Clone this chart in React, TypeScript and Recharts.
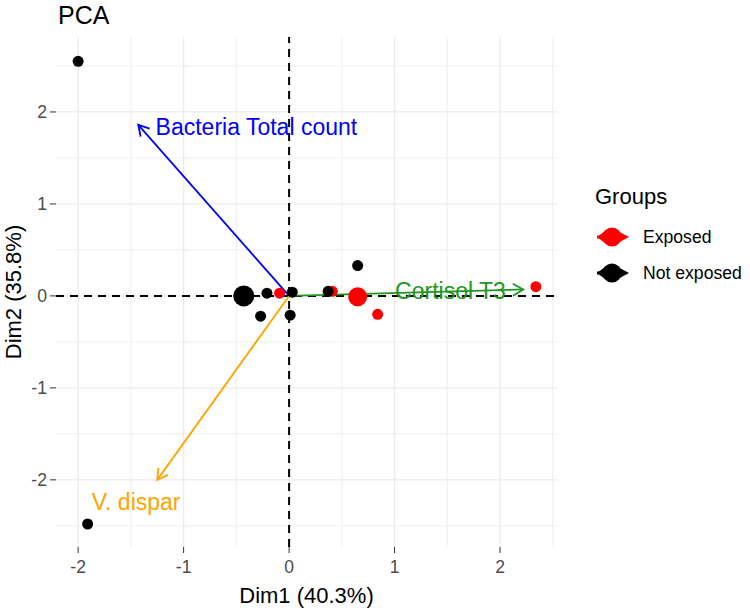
import React from "react";
import {
  ScatterChart,
  Scatter,
  XAxis,
  YAxis,
  CartesianGrid,
  ReferenceLine,
  Legend,
  Label,
} from "recharts";

// individuals
const exposedX = [-0.09, 0.41, 0.84, 2.34];
const exposedY = [0.03, 0.05, -0.2, 0.1];
const notExposedX = [-2.0, -1.91, -0.21, -0.27, 0.01, 0.03, 0.37, 0.65];
const notExposedY = [2.55, -2.48, 0.03, -0.22, -0.21, 0.04, 0.05, 0.33];

// group means
const groupNames = ["Exposed", "Not exposed"];
const meanX = [0.65, -0.43];
const meanY = [-0.01, 0.0];

// variables (arrows)
const varNames = ["Bacteria Total count", "Cortisol T3", "V. dispar"];
const varX = [-1.43, 2.22, -1.25];
const varY = [1.86, 0.07, -2.0];
const labelX = [-0.31, 1.53, -1.45];
const labelY = [1.84, 0.05, -2.24];

const xTicks = [-2, -1, 0, 1, 2];
const yTicks = [-2, -1, 0, 1, 2];
const xMinor = [-1.5, -0.5, 0.5, 1.5, 2.5];
const yMinor = [-2.5, -1.5, -0.5, 0.5, 1.5, 2.5];

const groupColors = ["#FF0000", "#000000"];
const varColors = ["#0000FF", "#1F961F", "#FFA500"];
const FONT = "'Liberation Sans', Arial, sans-serif";

const exposed = exposedX.map((x, i) => ({ x, y: exposedY[i] }));
const notExposed = notExposedX.map((x, i) => ({ x, y: notExposedY[i] }));
const labels = varNames.map((name, i) => ({ x: labelX[i], y: labelY[i], name, i }));

const dot = (r: number, fill: string) => (p: any) =>
  <circle cx={p.cx} cy={p.cy} r={r} fill={fill} />;

const arrow = (color: string) => (p: any) => {
  const { x1, y1, x2, y2 } = p;
  const a = Math.atan2(y2 - y1, x2 - x1);
  const len = 12;
  const s = Math.PI / 6;
  const ax = x2 - len * Math.cos(a - s);
  const ay = y2 - len * Math.sin(a - s);
  const bx = x2 - len * Math.cos(a + s);
  const by = y2 - len * Math.sin(a + s);
  return (
    <g>
      <line x1={x1} y1={y1} x2={x2} y2={y2} stroke={color} strokeWidth={1.8} />
      <polyline points={`${ax},${ay} ${x2},${y2} ${bx},${by}`} fill="none" stroke={color} strokeWidth={1.8} />
    </g>
  );
};

const KeyGlyph = ({ color }: { color: string }) => (
  <svg width={34} height={22} style={{ display: "block" }}>
    <polygon points="1,11 9,5 9,17" fill={color} />
    <line x1={1} y1={11} x2={17} y2={11} stroke={color} strokeWidth={3} />
    <circle cx={16} cy={11} r={9.5} fill={color} />
    <polygon points="18,3 33,11 18,19" fill={color} />
  </svg>
);

const renderLegend = () => (
  <div style={{ fontFamily: FONT, color: "#000" }}>
    <div style={{ height: 34, lineHeight: "34px", fontSize: 22, paddingLeft: 5, marginBottom: 5 }}>Groups</div>
    {groupNames.map((g, i) => (
      <div key={g} style={{ height: 36, display: "flex", alignItems: "center" }}>
        <div style={{ marginLeft: 6, width: 34 }}>
          <KeyGlyph color={groupColors[i]} />
        </div>
        <span style={{ marginLeft: 13, fontSize: 17.6, whiteSpace: "nowrap" }}>{g}</span>
      </div>
    ))}
  </div>
);

export default function App() {
  const tick = { fill: "#4D4D4D", fontSize: 17.6, fontFamily: FONT };
  return (
    <div style={{ position: "absolute", left: 0, top: 0, background: "#fff" }}>
      <ScatterChart width={750} height={608} margin={{ top: 37, right: 33, bottom: 0, left: 0 }}>
        <CartesianGrid horizontalValues={yMinor} verticalValues={xMinor} stroke="#EEEEEE" strokeWidth={1} />
        <CartesianGrid horizontalValues={yTicks} verticalValues={xTicks} stroke="#EBEBEB" strokeWidth={1.3} />
        <XAxis
          type="number"
          dataKey="x"
          domain={[-2.21, 2.54]}
          allowDataOverflow
          ticks={xTicks}
          height={61}
          axisLine={false}
          tickLine={{ stroke: "#333333" }}
          tickSize={6}
          tickMargin={8}
          tick={tick}
        >
          <Label
            content={(p: any) => (
              <text
                x={p.viewBox.x + p.viewBox.width / 2}
                y={603}
                textAnchor="middle"
                fontSize={22}
                fontFamily={FONT}
                fill="#000"
              >
                Dim1 (40.3%)
              </text>
            )}
          />
        </XAxis>
        <YAxis
          type="number"
          dataKey="y"
          domain={[-2.73, 2.815]}
          allowDataOverflow
          ticks={yTicks}
          width={56}
          axisLine={false}
          tickLine={{ stroke: "#333333" }}
          tickSize={6}
          tickMargin={3}
          tick={tick}
        >
          <Label
            content={(p: any) => {
              const cy = p.viewBox.y + p.viewBox.height / 2;
              return (
                <text
                  x={21}
                  y={cy}
                  transform={`rotate(-90 21 ${cy})`}
                  textAnchor="middle"
                  fontSize={22}
                  fontFamily={FONT}
                  fill="#000"
                >
                  Dim2 (35.8%)
                </text>
              );
            }}
          />
        </YAxis>
        <ReferenceLine x={0} stroke="#000" strokeWidth={2} strokeDasharray="8 6" />
        <ReferenceLine y={0} stroke="#000" strokeWidth={2} strokeDasharray="8 6" />
        <Scatter name="Exposed" data={exposed} shape={dot(5.5, groupColors[0])} isAnimationActive={false} />
        <Scatter name="Not exposed" data={notExposed} shape={dot(5.5, groupColors[1])} isAnimationActive={false} />
        <Scatter
          name="means"
          data={meanX.map((x, i) => ({ x, y: meanY[i], i }))}
          shape={(p: any) => <circle cx={p.cx} cy={p.cy} r={p.payload.i === 0 ? 9.5 : 10.5} fill={groupColors[p.payload.i]} />}
          isAnimationActive={false}
        />
        {varNames.map((n, i) => (
          <ReferenceLine
            key={n}
            segment={[{ x: 0, y: 0 }, { x: varX[i], y: varY[i] }]}
            shape={arrow(varColors[i])}
          />
        ))}
        <Scatter
          name="labels"
          data={labels}
          shape={(p: any) => (
            <text
              x={p.cx}
              y={p.cy}
              textAnchor="middle"
              dominantBaseline="central"
              fontSize={23}
              fontFamily={FONT}
              fill={varColors[p.payload.i]}
            >
              {p.payload.name}
            </text>
          )}
          isAnimationActive={false}
        />
        <Legend
          content={renderLegend}
          width={160}
          layout="vertical"
          align="right"
          verticalAlign="top"
          wrapperStyle={{ left: 590, top: 180 }}
        />
        <text x={58} y={24} fontSize={25} fontFamily={FONT} fill="#000">
          PCA
        </text>
      </ScatterChart>
    </div>
  );
}
